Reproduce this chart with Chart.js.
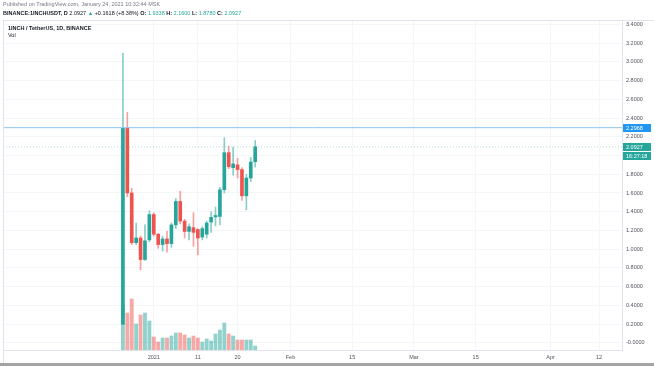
<!DOCTYPE html>
<html>
<head>
<meta charset="utf-8">
<script src="https://cdn.jsdelivr.net/npm/chart.js@4.4.1/dist/chart.umd.min.js"></script>
<style>
  html, body { margin: 0; padding: 0; background: #fff; }
  #wrap { position: relative; width: 654px; height: 366px; overflow: hidden; font-family: "Liberation Sans", Arial, sans-serif; }
  #wrap canvas { position: absolute; left: 0; top: 0; }
  .txt { position: absolute; white-space: nowrap; font-size: 5.5px; line-height: 7px; color: #131722; }
  .grey { color: #787b86; }
  .val { color: #26a69a; }
  .up { color: #26a69a; }
  #shade { position: absolute; left: 0; top: 363px; width: 654px; height: 3px; background: #a3a3a3; }
</style>
</head>
<body>
<div id="wrap">
  <canvas id="chart" width="654" height="366"></canvas>
  <div class="txt grey" style="left:3px;top:1px">Published on TradingView.com, January 24, 2021 10:32:44 MSK</div>
  <div class="txt" style="left:3px;top:10px"><b>BINANCE:1INCHUSDT, D</b> 2.0927 <span class="up">▲</span> +0.1618 (+8.38%) <b>O:</b> <span class="val">1.9338</span> <b>H:</b> <span class="val">2.1600</span> <b>L:</b> <span class="val">1.8780</span> <b>C:</b> <span class="val">2.0927</span></div>
  <div class="txt" style="left:8px;top:25px"><b>1INCH / TetherUS, 1D, BINANCE</b></div>
  <div class="txt" style="left:8px;top:32px">Vol</div>
  <div id="shade"></div>
</div>
<script>
// days counted from Dec 25, 2020
const days = [0, 1, 2, 3, 4, 5, 6, 7, 8, 9, 10, 11, 12, 13, 14, 15, 16, 17, 18, 19, 20, 21, 22, 23, 24, 25, 26, 27, 28, 29, 30];
const opens  = [0.20, 2.29, 1.60, 1.07, 1.12, 0.89, 1.10, 1.37, 1.16, 1.05, 1.11, 1.06, 1.26, 1.51, 1.30, 1.19, 1.23, 1.21, 1.13, 1.16, 1.29, 1.345, 1.35, 1.635, 2.03, 1.87, 1.90, 1.85, 1.57, 1.76, 1.9338];
const highs  = [3.09, 2.46, 1.65, 1.28, 1.14, 1.26, 1.41, 1.39, 1.17, 1.14, 1.19, 1.28, 1.54, 1.62, 1.32, 1.27, 1.39, 1.22, 1.24, 1.30, 1.40, 1.45, 1.66, 2.19, 2.10, 2.09, 1.97, 1.87, 1.80, 1.98, 2.16];
const lows   = [0.20, 1.56, 1.05, 1.05, 0.78, 0.88, 1.08, 1.14, 1.01, 0.98, 0.97, 1.02, 1.22, 1.27, 1.12, 1.10, 1.03, 0.94, 1.10, 1.12, 1.18, 1.25, 1.26, 1.60, 1.86, 1.79, 1.76, 1.52, 1.42, 1.72, 1.878];
const closes = [2.29, 1.60, 1.07, 1.12, 0.89, 1.09, 1.37, 1.16, 1.05, 1.11, 1.06, 1.26, 1.51, 1.30, 1.19, 1.24, 1.18, 1.12, 1.22, 1.28, 1.34, 1.36, 1.635, 2.03, 1.88, 1.91, 1.85, 1.57, 1.76, 1.93, 2.0927];
// volume, relative units
const volumes = [45, 37, 51, 26, 35, 37, 29, 13, 8, 12, 12, 14, 17, 17, 15, 12, 14, 12, 8, 11, 9, 16, 20, 27, 16, 14, 10, 10, 10, 10, 4];

const priceTicks = [0, 0.2, 0.4, 0.6, 0.8, 1.0, 1.2, 1.4, 1.6, 1.8, 2.0, 2.2, 2.4, 2.6, 2.8, 3.0, 3.2, 3.4];
const timeTickDays = [7, 17, 26, 38, 52, 66, 80, 97, 108];
const timeTickLabels = ['2021', '11', '20', 'Feb', '15', 'Mar', '15', 'Apr', '12'];

const hLineLevel = 2.2968;
const lastClose = 2.0927;
const countdown = '16:27:18';

const xMin = -27.2, xMax = 113.2;

const GREEN = '#26a69a', RED = '#ef5350';
const isUp = days.map((d, i) => closes[i] >= opens[i]);

const bodyData = days.map((d, i) => ({ x: d, y: [opens[i], closes[i]] }));
const wickData = days.map((d, i) => ({ x: d, y: [lows[i], highs[i]] }));
const volData = days.map((d, i) => ({ x: d, y: volumes[i] }));

const framePlugin = {
  id: 'frame',
  afterDraw(chart) {
    const ctx = chart.ctx;
    const y = chart.scales.y;
    const a = chart.chartArea;
    ctx.save();
    ctx.strokeStyle = '#e0e3eb';
    ctx.lineWidth = 1;
    ctx.beginPath();
    ctx.moveTo(3, 20.5); ctx.lineTo(654, 20.5);
    ctx.moveTo(3.5, 20.5); ctx.lineTo(3.5, 363);
    ctx.stroke();

    function box(val, text, color, dy) {
      const py = Math.round(y.getPixelForValue(val)) + (dy || 0);
      ctx.fillStyle = color;
      ctx.fillRect(a.right + 1, py - 4, 28, 8);
      ctx.fillStyle = '#fff';
      ctx.font = '5.5px "Liberation Sans", Arial, sans-serif';
      ctx.textBaseline = 'middle';
      ctx.textAlign = 'left';
      ctx.fillText(text, a.right + 4, py + 0.5);
    }
    box(hLineLevel, hLineLevel.toFixed(4), '#2196f3', 0);
    box(lastClose, lastClose.toFixed(4), GREEN, 0);
    box(lastClose, countdown, GREEN, 9);
    ctx.restore();
  }
};

new Chart(document.getElementById('chart'), {
  type: 'bar',
  data: {
    datasets: [
      {
        type: 'line',
        data: [{ x: xMin, y: hLineLevel }, { x: xMax, y: hLineLevel }],
        borderColor: '#8ec3ef',
        borderWidth: 1,
        pointRadius: 0,
        order: 0
      },
      {
        type: 'line',
        data: [{ x: xMin, y: lastClose }, { x: xMax, y: lastClose }],
        borderColor: 'rgba(38,166,154,0.35)',
        borderWidth: 1,
        borderDash: [1, 2],
        pointRadius: 0,
        order: 0
      },
      {
        label: 'body',
        data: bodyData,
        backgroundColor: isUp.map(u => u ? GREEN : RED),
        barThickness: 3,
        minBarLength: 1,
        grouped: false,
        borderSkipped: false,
        order: 1
      },
      {
        label: 'wick',
        data: wickData,
        backgroundColor: isUp.map(u => u ? 'rgba(38,166,154,0.55)' : 'rgba(239,83,80,0.55)'),
        barThickness: 1,
        grouped: false,
        borderSkipped: false,
        order: 2
      },
      {
        label: 'Vol',
        data: volData,
        yAxisID: 'yv',
        backgroundColor: isUp.map(u => u ? 'rgba(38,166,154,0.5)' : 'rgba(239,83,80,0.5)'),
        barThickness: 3.2,
        grouped: false,
        order: 3
      }
    ]
  },
  options: {
    responsive: false,
    animation: false,
    layout: { padding: { top: 21, left: 3, right: 0, bottom: 0 } },
    plugins: {
      legend: { display: false },
      tooltip: { enabled: false }
    },
    scales: {
      x: {
        type: 'linear',
        offset: false,
        min: xMin,
        max: xMax,
        afterBuildTicks: s => { s.ticks = timeTickDays.map(v => ({ value: v })); },
        afterFit: s => { s.height = 16; },
        ticks: {
          autoSkip: false,
          maxRotation: 0,
          padding: 4,
          color: '#50535e',
          font: { size: 5.5, family: '"Liberation Sans", Arial, sans-serif' },
          callback: (v, i) => timeTickLabels[i]
        },
        grid: { color: '#f3f5f9', drawTicks: false, offset: false },
        border: { color: '#e0e3eb' }
      },
      y: {
        position: 'right',
        min: -0.075,
        max: 3.435,
        afterBuildTicks: s => { s.ticks = priceTicks.map(v => ({ value: v })); },
        afterFit: s => { s.width = 32; },
        ticks: {
          padding: 4,
          color: '#50535e',
          font: { size: 5.5, family: '"Liberation Sans", Arial, sans-serif' },
          callback: v => v === 0 ? '-0.0000' : v.toFixed(4)
        },
        grid: { color: '#f3f5f9', drawTicks: false },
        border: { color: '#e0e3eb' }
      },
      yv: {
        display: false,
        min: 0,
        max: 329
      }
    }
  },
  plugins: [framePlugin]
});
</script>
</body>
</html>
